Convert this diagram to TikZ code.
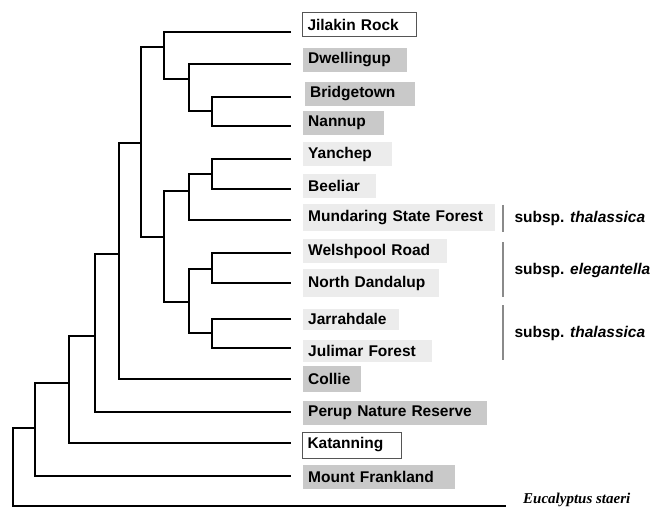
\documentclass[tikz,border=0pt]{standalone}
\usepackage{fontspec}
\setmainfont{Liberation Sans}
\newfontfamily\serifit{Liberation Serif}
\usetikzlibrary{positioning}
\definecolor{GA}{HTML}{C9C9C9}
\definecolor{GB}{HTML}{ECECEC}
\definecolor{GC}{HTML}{555555}
\definecolor{GD}{HTML}{8A8A8A}
\tikzset{
  branch/.style={line width=2.8bp},
  leafbox/.style={inner xsep=5bp, inner ysep=0pt, minimum height=24bp,
                  align=left, font=\fontsize{15.5bp}{18bp}\selectfont\bfseries},
  graybox/.style={leafbox, fill=GA},
  palebox/.style={leafbox, fill=GB},
  openbox/.style={leafbox, draw=GC, line width=1bp, fill=white},
  groupbar/.style={draw=GD, line width=1.2bp},
  grouplabel/.style={anchor=west, font=\fontsize{15.5bp}{18bp}\selectfont\bfseries}
}

\begin{document}
\begin{tikzpicture}[x=1bp, y=-1bp]
  \useasboundingbox (0,0) rectangle (656,510);

  % tips
  \coordinate (tJil) at (291,32);
  \coordinate (tDwe) at (291,64);
  \coordinate (tBri) at (291,97);
  \coordinate (tNan) at (291,126);
  \coordinate (tYan) at (291,159);
  \coordinate (tBee) at (291,189);
  \coordinate (tMun) at (291,220);
  \coordinate (tWel) at (291,253);
  \coordinate (tNor) at (291,283);
  \coordinate (tJar) at (291,319);
  \coordinate (tJul) at (291,348);
  \coordinate (tCol) at (291,379);
  \coordinate (tPer) at (291,412);
  \coordinate (tKat) at (291,443);
  \coordinate (tMou) at (291,476);
  \coordinate (tEuc) at (506,506);

  % inner nodes
  \coordinate (nA) at (164,47);
  \coordinate (nB) at (189,79);
  \coordinate (nC) at (212,111);
  \coordinate (nD) at (212,174);
  \coordinate (nE) at (189,191);
  \coordinate (nF) at (164,237);
  \coordinate (nG) at (189,302);
  \coordinate (nH) at (212,269);
  \coordinate (nI) at (212,333);
  \coordinate (nJ) at (141,143);
  \coordinate (nK) at (119,254);
  \coordinate (nL) at (95,336);
  \coordinate (nM) at (69,383);
  \coordinate (nN) at (35,428);
  \coordinate (nR) at (13,467);

  % branches
  \draw[branch] (tBri) -| (nC) |- (tNan);
  \draw[branch] (tDwe) -| (nB) |- (nC);
  \draw[branch] (tJil) -| (nA) |- (nB);
  \draw[branch] (tYan) -| (nD) |- (tBee);
  \draw[branch] (tMun) -| (nE) |- (nD);
  \draw[branch] (tWel) -| (nH) |- (tNor);
  \draw[branch] (tJar) -| (nI) |- (tJul);
  \draw[branch] (nH) -| (nG) |- (nI);
  \draw[branch] (nE) -| (nF) |- (nG);
  \draw[branch] (nA) -| (nJ) |- (nF);
  \draw[branch] (nJ) -| (nK) |- (tCol);
  \draw[branch] (nK) -| (nL) |- (tPer);
  \draw[branch] (nL) -| (nM) |- (tKat);
  \draw[branch] (nM) -| (nN) |- (tMou);
  \draw[branch] (nN) -| (nR) |- (tEuc);

  % leaf labels
  \node[openbox, text width=104bp, right=11bp of tJil, yshift=7bp] (jil) {Jilakin Rock};
  \node[graybox, text width=94bp, right=12bp of tDwe, yshift=4bp] (dwe) {Dwellingup};
  \node[graybox, text width=100bp, right=14bp of tBri, yshift=3bp] (bri) {Bridgetown};
  \node[graybox, text width=71bp, right=12bp of tNan, yshift=3bp] (nan) {Nannup};
  \node[palebox, text width=79bp, right=12bp of tYan, yshift=5bp] (yan) {Yanchep};
  \node[palebox, text width=63bp, right=12bp of tBee, yshift=3bp] (bee) {Beeliar};
  \node[palebox, text width=182bp, right=12bp of tMun, yshift=2bp, minimum height=27bp] (mun) {Mundaring State Forest};
  \node[palebox, text width=134bp, right=12bp of tWel, yshift=2bp] (wel) {Welshpool Road};
  \node[palebox, text width=126bp, right=12bp of tNor, minimum height=28bp] (nor) {North Dandalup};
  \node[palebox, text width=86bp, right=12bp of tJar, minimum height=21bp] (jar) {Jarrahdale};
  \node[palebox, text width=119bp, right=12bp of tJul, yshift=-3bp, minimum height=22bp] (jul) {Julimar Forest};
  \node[graybox, text width=48bp, right=12bp of tCol, minimum height=26bp] (col) {Collie};
  \node[graybox, text width=174bp, right=12bp of tPer, yshift=-1bp] (per) {Perup Nature Reserve};
  \node[openbox, text width=89bp, right=11bp of tKat, yshift=-2bp, minimum height=26bp] (kat) {Katanning};
  \node[graybox, text width=142bp, right=12bp of tMou, yshift=-1bp] (mou) {Mount Frankland};
  \node[anchor=west, inner sep=0pt, font=\serifit\fontsize{15bp}{18bp}\selectfont\bfseries\itshape]
    (euc) at (523,500) {Eucalyptus staeri};

  % subspecies groups
  \coordinate (gAt) at (503,205);
  \coordinate (gAb) at (503,232);
  \coordinate (gBt) at (503,242);
  \coordinate (gBb) at (503,297);
  \coordinate (gCt) at (503,305);
  \coordinate (gCb) at (503,360);
  \draw[groupbar] (gAt) -- (gAb);
  \draw[groupbar] (gBt) -- (gBb);
  \draw[groupbar] (gCt) -- (gCb);
  \node[grouplabel] (subA) at (511,218) {subsp. \textit{thalassica}};
  \node[grouplabel] (subB) at (511,270) {subsp. \textit{elegantella}};
  \node[grouplabel] (subC) at (511,333) {subsp. \textit{thalassica}};
\end{tikzpicture}
\end{document}
